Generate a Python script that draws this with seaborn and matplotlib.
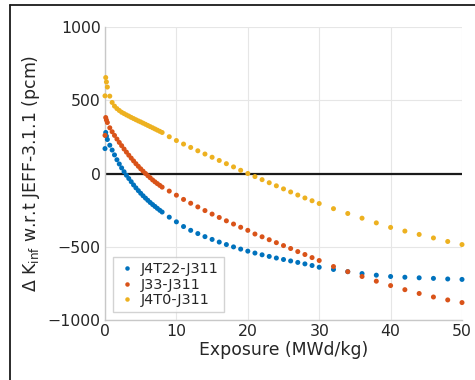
import numpy as np
import pandas as pd
import matplotlib
matplotlib.use("Agg")
import matplotlib.pyplot as plt
import seaborn as sns
from matplotlib.lines import Line2D

# ---- data ----
exposure = [0, 0.1, 0.2, 0.33, 0.67, 1.0, 1.33, 1.67, 2.0, 2.33, 2.67, 3.0, 3.33, 3.67,
            4.0, 4.33, 4.67, 5.0, 5.33, 5.67, 6.0, 6.33, 6.67, 7.0, 7.33, 7.67, 8.0,
            9, 10, 11, 12, 13, 14, 15, 16, 17, 18, 19, 20, 21, 22, 23, 24, 25, 26, 27,
            28, 29, 30, 32, 34, 36, 38, 40, 42, 44, 46, 48, 50]

j4t22 = [170, 280, 255, 232, 193, 160, 127, 94, 65, 38, 12, -12, -34, -56,
         -78, -98, -117, -135, -152, -168, -183, -198, -212, -225, -238, -251, -263,
         -298, -330, -362, -388, -410, -431, -450, -468, -485, -501, -516, -530, -543,
         -555, -566, -577, -587, -597, -607, -617, -628, -640, -655, -670, -683, -694,
         -703, -708, -712, -716, -720, -723]

j33 = [260, 382, 365, 348, 312, 285, 260, 235, 212, 190, 167, 146, 125, 105,
       86, 67, 49, 32, 16, 0, -15, -29, -44, -57, -69, -81, -93,
       -120, -148, -177, -203, -228, -253, -277, -300, -323, -345, -367, -388, -413,
       -432, -452, -472, -492, -512, -533, -553, -574, -594, -635, -670, -703, -735,
       -765, -793, -819, -843, -863, -881]

j4t0 = [530, 655, 625, 590, 528, 485, 460, 443, 430, 418, 409, 400, 392, 383,
        375, 367, 359, 352, 344, 336, 328, 320, 312, 304, 296, 288, 280,
        251, 225, 201, 178, 155, 133, 111, 89, 67, 45, 22, 0, -21,
        -42, -63, -84, -105, -126, -147, -167, -186, -205, -240, -273, -305, -337,
        -368, -393, -416, -440, -464, -485]

series_names = ["J4T22-J311", "J33-J311", "J4T0-J311"]
colors = ["#0072BD", "#D95319", "#EDB120"]

x_ticks = [0, 10, 20, 30, 40, 50]
y_ticks = [-1000, -500, 0, 500, 1000]

df = pd.concat([
    pd.DataFrame({"Exposure": exposure, "dK": vals, "Series": name})
    for name, vals in zip(series_names, [j4t22, j33, j4t0])
], ignore_index=True)

sns.set_style("white")
plt.rcParams["font.family"] = ["DejaVu Sans"]
plt.rcParams["mathtext.fontset"] = "dejavusans"

fig = plt.figure(figsize=(4.75, 3.8), dpi=100)
ax = fig.add_axes([105 / 475, 1 - 320 / 380, (462 - 105) / 475, (320 - 27) / 380])

ax.axhline(0, color="#1a1a1a", lw=1.6, zorder=2)

sns.scatterplot(data=df, x="Exposure", y="dK", hue="Series", hue_order=series_names,
                palette=colors, s=13, linewidth=0, ax=ax, zorder=3, clip_on=False)

ax.set_xlim(0, 50)
ax.set_ylim(-1000, 1000)
ax.set_xticks(x_ticks)
ax.set_yticks(y_ticks)
ax.grid(True, color="#e6e6e6", lw=0.8)
ax.set_axisbelow(True)

for s in ["top", "right"]:
    ax.spines[s].set_visible(False)
for s in ["left", "bottom"]:
    ax.spines[s].set_color("#c8c8c8")
    ax.spines[s].set_linewidth(1.0)

ax.tick_params(axis="both", direction="in", length=3, color="#c8c8c8",
               labelsize=11.3, labelcolor="#262626", pad=3)

ax.set_xlabel("Exposure (MWd/kg)", fontsize=12.4, color="#262626", labelpad=1)
ax.set_ylabel(r"Δ K$_{\mathrm{inf}}$ w.r.t JEFF-3.1.1 (pcm)", fontsize=12.4,
              color="#262626", labelpad=4)

leg = ax.legend(loc="lower left", bbox_to_anchor=(0.022, 0.027), borderaxespad=0,
                fontsize=10.4, frameon=True, fancybox=False, handletextpad=0.4,
                handlelength=1.2, labelspacing=0.1, borderpad=0.35, markerscale=0.9)
leg.get_frame().set_edgecolor("#c8c8c8")
leg.get_frame().set_linewidth(1.0)
for t in leg.get_texts():
    t.set_color("#262626")

# Figure frame: visible on left and top edges in reference
fx = 10 / 475
fy = 1 - 5 / 380
fig.add_artist(Line2D([fx, 1.0], [fy, fy], transform=fig.transFigure,
                      color="#1a1a1a", lw=1.3))
fig.add_artist(Line2D([fx, fx], [0.0, fy], transform=fig.transFigure,
                      color="#1a1a1a", lw=1.3))

fig.savefig("out.png", dpi=100)
